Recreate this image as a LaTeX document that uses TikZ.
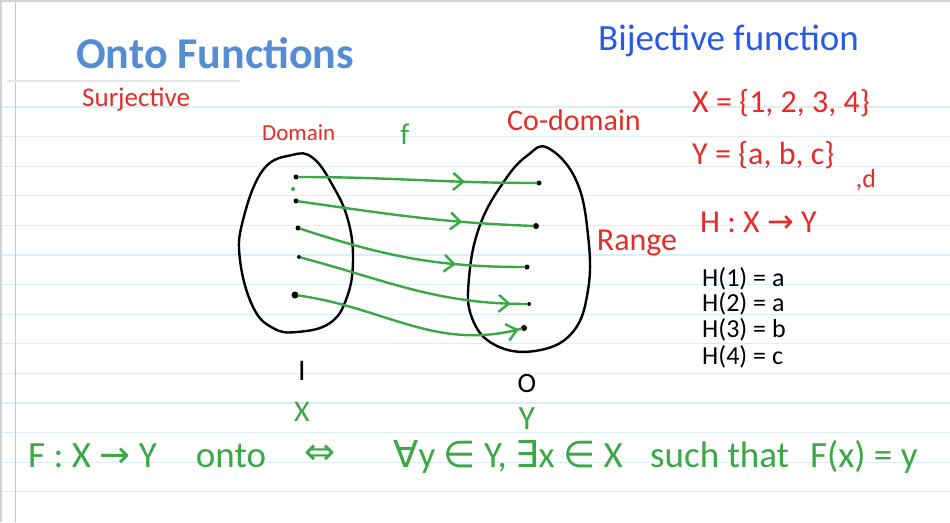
\documentclass[tikz,border=0pt]{standalone}
\usepackage{fontspec}
\setmainfont{Carlito}
\newfontfamily\symfont{DejaVu Sans}
\usepackage{tikz}
\usetikzlibrary{arrows.meta,positioning,decorations.markings}
\definecolor{inkred}{RGB}{228,45,40}
\definecolor{inkgreen}{RGB}{58,168,68}
\definecolor{inkblue}{RGB}{40,90,230}
\definecolor{titleblue}{RGB}{84,141,212}
\definecolor{rulecol}{RGB}{222,236,250}
\definecolor{margincol}{RGB}{236,178,188}

\begin{document}
\begin{tikzpicture}[x=1pt, y=1pt, every node/.style={inner sep=0pt},
  hand/.style={font=\fontsize{#1}{#1}\selectfont},
  pen/.style={line width=2.4pt, line cap=round, line join=round},
  dot/.style={circle, fill=black, inner sep=0pt, minimum size=5pt},
  mapline/.style={pen, draw=inkgreen,
    decoration={markings, mark=at position #1 with {\arrow{Straight Barb[length=10pt,width=17pt]}}},
    postaction={decorate}}]
\useasboundingbox[fill=white] (0,0) rectangle (950,-522);
\foreach \k in {0,...,13}
  \draw[rulecol, line width=1.2pt] (0,{-107-29.6*\k}) -- (950,{-107-29.6*\k});
\draw[margincol, line width=1.2pt] (15.5,0) -- (15.5,-522);
\draw[gray!20, line width=1.5pt] (7,-81) -- (240,-81);
\draw[gray!35, line width=1.5pt] (1,-522) -- (1,-1) -- (950,-1);

\node[anchor=base west, text=titleblue, font=\fontsize{44}{44}\selectfont\bfseries] (title) at (76,-68) {Onto Functions};
\node[hand=27, text=inkred, anchor=base west] (surj) at (82,-106) {Surjective};
\node[hand=37, text=inkblue, anchor=base west] (bij) at (598,-50) {Bijective function};

\draw[pen] plot[smooth cycle, tension=0.7] coordinates {(292,-155) (313,-158) (333,-186) (348,-220) (353,-260) (347,-297) (330,-323) (297,-332) (273,-328) (253,-307) (240,-260) (243,-220) (263,-170)};
\draw[pen] plot[smooth cycle, tension=0.7] coordinates {(548,-148) (576,-180) (588,-235) (588,-290) (572,-333) (535,-351) (495,-345) (472,-318) (469,-278) (480,-225) (505,-180) (528,-155)};

\node[dot] (d1) at (296,-177) {};
\node[dot, fill=inkgreen, minimum size=4pt] (dg) at (293,-189) {};
\node[dot] (d2) at (296,-201) {};
\node[dot] (d3) at (298,-228) {};
\node[dot, minimum size=4pt] (d4) at (299,-257) {};
\node[dot, minimum size=7pt] (d5) at (295,-295) {};
\node[dot] (c1) at (539,-183) {};
\node[dot, minimum size=6pt] (c2) at (536,-226) {};
\node[dot] (c3) at (527,-267) {};
\node[dot, minimum size=4pt] (c4) at (529,-304) {};
\node[dot, minimum size=6pt] (c5) at (524,-328) {};

\draw[mapline=0.7] (d1) to[out=0, in=180] (c1);
\draw[mapline=0.7] (d2) to[out=-8, in=178] (c2);
\draw[mapline=0.7] (d3) to[out=-18, in=180] (c3);
\draw[mapline=0.93] (d4) to[out=-15, in=180] (c4);
\draw[mapline=0.99] (d5) to[out=-8, in=195] (c5);

\node[hand=23, text=inkred, anchor=base west] (dom) at (262,-140) {Domain};
\node[hand=30, text=inkgreen] (fname) at (405,-134) {f};
\node[hand=30, text=inkred, anchor=base west] (codom) at (507,-130) {Co-domain};
\node[hand=32, text=inkred, anchor=base west] (setx) at (692,-112) {X = \{1, 2, 3, 4\}};
\node[hand=32, text=inkred, anchor=base west] (sety) at (692,-164) {Y = \{a, b, c\}};
\node[hand=26, text=inkred] (setd) at (866,-180) {,d};
\node[hand=32, text=inkred, anchor=base west] (hmap) at (700,-232) {H : X {\symfont →} Y};
\node[hand=32, text=inkred] (range) at (637,-243) {Range};
\foreach \i/\v/\y in {1/a/279, 2/a/304, 3/b/330, 4/c/357}
  \node[hand=26, anchor=west] (h\i) at (702,-\y) {H(\i) = \v};

\node[hand=30] (inp) at (302,-371) {I};
\node[hand=28] (outp) at (527,-384) {O};
\node[hand=30, text=inkgreen] (inx) at (302,-412) {X};
\node[hand=34, text=inkgreen] (outy) at (527,-419) {Y};

\node[hand=37, text=inkgreen, anchor=base west] (ftype) at (28,-467) {F : X {\symfont →} Y};
\node[hand=37, text=inkgreen, anchor=base] (onto) at (231,-467) {onto};
\node[hand=37, text=inkgreen] (iff) at (320,-455) {\symfont ⇔};
\node[hand=37, text=inkgreen, anchor=base west] (quant) at (393,-467) {{\symfont ∀}y {\symfont ∈} Y, {\symfont ∃}x {\symfont ∈} X};
\node[hand=37, text=inkgreen, anchor=base west] (such) at (650,-467) {such that};
\node[hand=37, text=inkgreen, anchor=base west] (fx) at (810,-467) {F(x) = y};
\end{tikzpicture}
\end{document}
